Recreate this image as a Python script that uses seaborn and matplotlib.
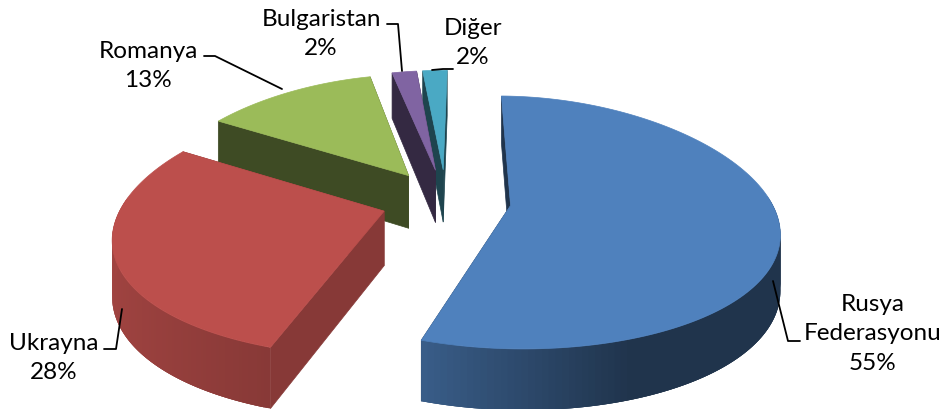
import numpy as np
import matplotlib
matplotlib.use('Agg')
import matplotlib.pyplot as plt
import seaborn as sns

names = ['Rusya\nFederasyonu', 'Ukrayna', 'Romanya', 'Bulgaristan', 'Diğer']
shares = [55, 28, 13, 2, 2]
top_colors = ['#4f81bd', '#bc4f4c', '#9bbb59', '#8064a2', '#4aa9c4']
cut_shades = [0.40, 0.72, 0.40, 0.41, 0.40]

# label centres and leader lines, in pixels of the picture
label_pos = [(873, 334), (54, 358), (148, 66), (321, 34), (473, 43)]
leaders = [
    ([800, 788, 773], [342, 342, 282]),
    ([104, 116, 122], [350, 350, 310]),
    ([204, 215, 282], [57, 57, 90]),
    ([387, 398, 402], [25, 25, 72]),
    ([453, 443, 432], [70, 70, 71]),
]

sns.set_theme(style='white')
plt.rcParams['font.family'] = ['Lato', 'DejaVu Sans']

# fake 3D: disc seen from above, with the front a bit bigger than the back
CX, CY = 446, 201
RX = 260
EXPLODE = 0.25
KX = 0.20
A, B = 125, 17
H0, H1 = 54, 7
START = np.radians(1)


def project(x, d):
    x, d = np.asarray(x), np.asarray(d)
    return CX + RX * x * (1 + KX * d), CY + A * d + B * d ** 2


def side_shade(u):
    return np.interp(u, [-1, -0.31, 0.36, 1], [0.86, 0.72, 0.40, 0.40])


def scaled(color, f):
    return tuple(np.array(sns.color_palette([color])[0]) * f)


def wall(ax, x, d, color, lw=0.5):
    # a strip of the rim: the edge on top plus the same edge dropped by the height
    px, py = project(x, d)
    qx, qy = project(x[::-1], d[::-1])
    qy = qy + H0 + H1 * d[::-1]
    ax.fill(np.r_[px, qx], np.r_[py, qy], color=color, lw=lw, zorder=ax.zcount)
    ax.zcount += 1


def draw_slice(ax, theta0, theta1, color, cut_shade):
    mid = (theta0 + theta1) / 2
    ox, od = EXPLODE * np.sin(mid), -EXPLODE * np.cos(mid)
    th = np.linspace(theta0, theta1, 160)
    rim_x, rim_d = ox + np.sin(th), od - np.cos(th)

    # the two cut faces
    for t in (theta0, theta1):
        wall(ax, np.array([ox, ox + np.sin(t)]), np.array([od, od - np.cos(t)]),
             scaled(color, cut_shade))

    # outer wall, front part only, shaded strip by strip (overlapping so no seams show)
    for i in range(len(th) - 1):
        if np.cos(th[i]) < 0.08:
            f = side_shade(np.sin(th[i]))
            wall(ax, rim_x[i:i + 4], rim_d[i:i + 4], scaled(color, f), lw=0)

    # top
    px, py = project(np.r_[ox, rim_x], np.r_[od, rim_d])
    ax.fill(px, py, color=color, lw=0.5, zorder=ax.zcount)
    ax.zcount += 1


fig = plt.figure(figsize=(9.45, 4.1), dpi=100)
ax = fig.add_axes([0, 0, 1, 1])
ax.zcount = 1
ax.set_xlim(0, 945)
ax.set_ylim(410, 0)
ax.axis('off')

edges = np.cumsum([0] + shares) / np.sum(shares) * 2 * np.pi + START
for i in [4, 3, 2, 0, 1]:  # back to front
    draw_slice(ax, edges[i], edges[i + 1], top_colors[i], cut_shades[i])

for (lx, ly) in leaders:
    sns.lineplot(x=lx, y=ly, sort=False, estimator=None, color='black', lw=1.3, ax=ax, zorder=1000)

for name, share, (tx, ty) in zip(names, shares, label_pos):
    ax.text(tx, ty, f'{name}\n{share}%', ha='center', va='center', fontsize=17.5,
            color='black', linespacing=1.5, zorder=1001)

fig.savefig('out.png', dpi=100)
